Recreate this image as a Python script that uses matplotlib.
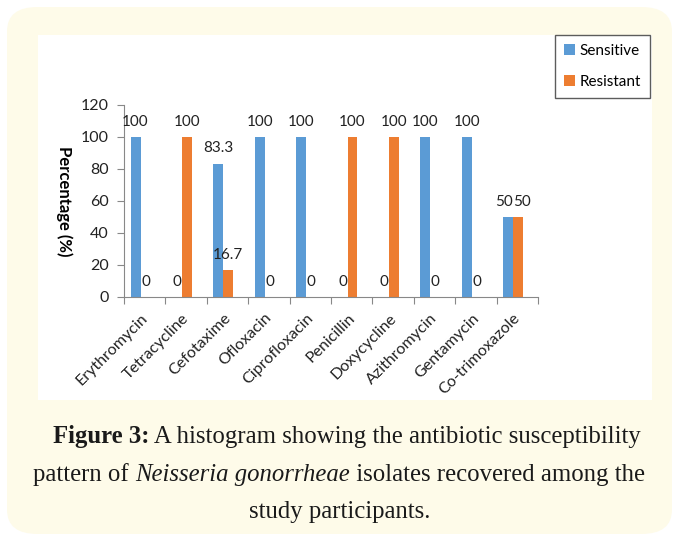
import matplotlib
matplotlib.use('Agg')
import matplotlib.pyplot as plt
from matplotlib.patches import FancyBboxPatch, Rectangle
import numpy as np

drugs = ['Erythromycin', 'Tetracycline', 'Cefotaxime', 'Ofloxacin', 'Ciprofloxacin',
         'Penicillin', 'Doxycycline', 'Azithromycin', 'Gentamycin', 'Co-trimoxazole']
sensitive = [100, 0, 83.3, 100, 100, 0, 0, 100, 100, 50]
resistant = [0, 100, 16.7, 0, 0, 100, 100, 0, 0, 50]
sens_labels = ['100', '0', '83.3', '100', '100', '0', '0', '100', '100', '50']
res_labels = ['0', '100', '16.7', '0', '0', '100', '100', '0', '0', '50']

plt.rcParams['font.family'] = ['Lato', 'DejaVu Sans']

W, H = 677, 541
fig = plt.figure(figsize=(W / 100, H / 100), dpi=100)
fig.patch.set_facecolor('white')

# cream rounded panel and white chart area (behind the axes)
panel = FancyBboxPatch((7 / W, 7 / H), 665 / W, 527 / H,
                       boxstyle='round,pad=0,rounding_size=0.045',
                       transform=fig.transFigure, facecolor='#fefbe9', edgecolor='none', zorder=-10)
fig.patches.append(panel)
fig.patches.append(Rectangle((38 / W, 1 - 400 / H), 614 / W, 365 / H, zorder=-9,
                             transform=fig.transFigure, facecolor='white', edgecolor='none'))

ax = fig.add_axes([124 / W, 1 - 297 / H, 414 / W, 192 / H])
ax.set_facecolor('none')
x = np.arange(len(drugs))
w = 0.24
off = -0.1
c_s, c_r = '#5b9bd5', '#ed7d31'
ax.bar(x + off - w / 2, sensitive, w, color=c_s, label='Sensitive')
ax.bar(x + off + w / 2, resistant, w, color=c_r, label='Resistant')

for i in range(len(drugs)):
    # Excel pushes apart two labels that sit at the same height
    nudge = 3 if sensitive[i] == resistant[i] and sensitive[i] > 0 else 0
    ax.annotate(sens_labels[i], (x[i] + off - w / 2, sensitive[i]), xytext=(-nudge, 6),
                textcoords='offset points', ha='center', va='bottom', fontsize=11, color='#222222')
    ax.annotate(res_labels[i], (x[i] + off + w / 2, resistant[i]), xytext=(nudge, 6),
                textcoords='offset points', ha='center', va='bottom', fontsize=11, color='#222222')

ax.set_xlim(-0.5, len(drugs) - 0.5)
ax.set_ylim(0, 120)
ax.set_yticks(range(0, 121, 20))
ax.set_xticks(np.arange(-0.5, len(drugs), 1))
ax.set_xticklabels([])
ax.set_xticks(x - 0.1, minor=True)
ax.set_xticklabels(drugs, minor=True, rotation=45, ha='right', rotation_mode='anchor', fontsize=11.5)
ax.tick_params(axis='x', which='minor', length=0, pad=10, colors='#222222')
ax.tick_params(axis='x', which='major', length=5, color='#888888', direction='out')
ax.tick_params(axis='y', length=5, color='#888888', labelsize=11.5, pad=6, labelcolor='#222222')
for s in ['top', 'right']:
    ax.spines[s].set_visible(False)
for s in ['left', 'bottom']:
    ax.spines[s].set_color('#888888')
ax.set_ylabel('Percentage (%)', rotation=270, fontweight='bold', fontsize=12, labelpad=18)

fig.legend(loc='upper left', bbox_to_anchor=(555 / W, 1 - 35 / H), fontsize=11,
           frameon=True, fancybox=False, edgecolor='#333333', handlelength=0.7,
           handleheight=0.7, handletextpad=0.3, labelspacing=1.1, borderpad=0.6,
           borderaxespad=0)

# caption with mixed styles, centred on each line
lines = [
    [('Figure 3:', 'normal', 'bold'), (' A histogram showing the antibiotic susceptibility', 'normal', 'normal')],
    [('pattern of ', 'normal', 'normal'), ('Neisseria gonorrheae', 'italic', 'normal'),
     (' isolates recovered among the', 'normal', 'normal')],
    [('study participants.', 'normal', 'normal')],
]
line_y = [437, 475, 512]
line_cx = [347, 339, 340]
renderer = fig.canvas.get_renderer()
for runs, ly, cx in zip(lines, line_y, line_cx):
    texts = []
    for s, style, weight in runs:
        t = fig.text(0, 1 - ly / H, s, fontsize=17.8, family='Liberation Serif', style=style,
                     fontweight=weight, va='center', ha='left', color='#1a1a1a')
        texts.append(t)
    widths = [t.get_window_extent(renderer).width for t in texts]
    xpos = cx - sum(widths) / 2
    for t, wd in zip(texts, widths):
        t.set_x(xpos / W)
        xpos += wd

fig.savefig('out.png', dpi=100)
